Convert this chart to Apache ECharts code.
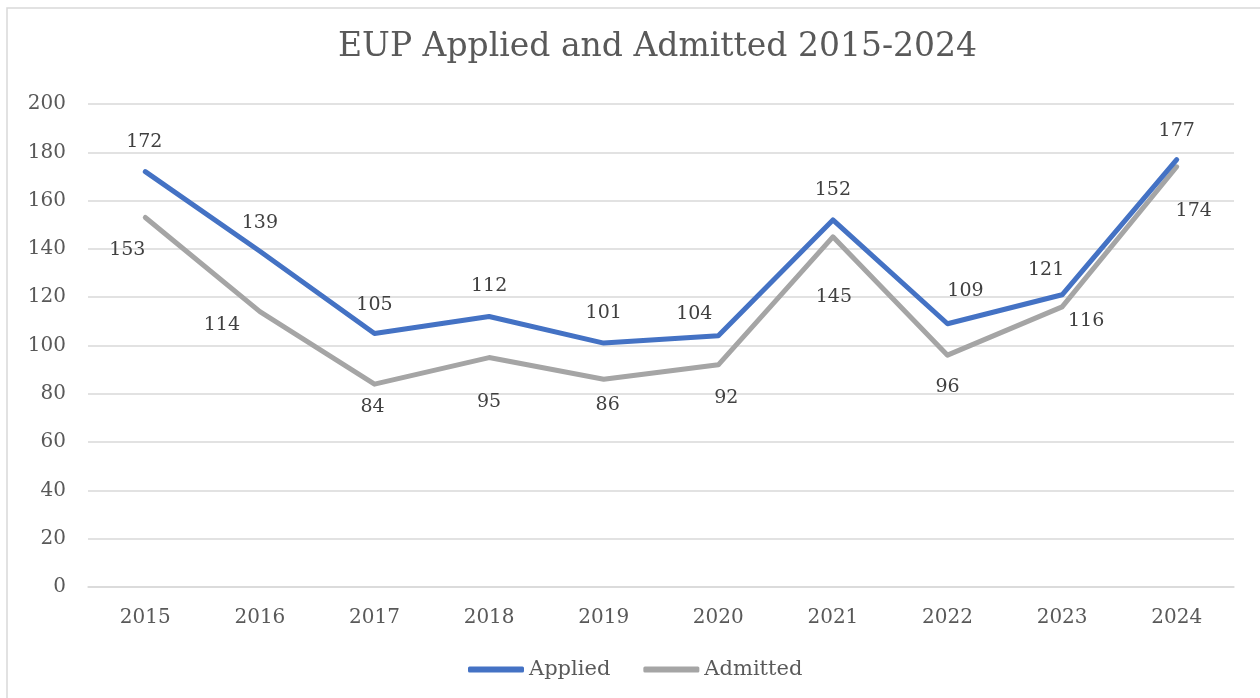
<!DOCTYPE html>
<html>
<head>
<meta charset="utf-8">
<title>EUP Applied and Admitted 2015-2024</title>
<script src="https://cdn.jsdelivr.net/npm/echarts@6/dist/echarts.min.js"></script>
<style>
  html, body { margin: 0; padding: 0; background: #fff; }
  #chart { width: 1260px; height: 698px; }
</style>
</head>
<body>
<div id="chart"></div>
<script>
// data
const years = ['2015', '2016', '2017', '2018', '2019', '2020', '2021', '2022', '2023', '2024']
const applied = [172, 139, 105, 112, 101, 104, 152, 109, 121, 177]
const admitted = [153, 114, 84, 95, 86, 92, 145, 96, 116, 174]

// label nudges (px, from the point) - the labels were moved by hand in the original
const appliedLabelOffset = [[-1, -30], [0, -28], [0, -28], [0, -30], [0, -30], [-24, -22], [0, -30], [18, -33], [-16, -25], [0, -28]]
const admittedLabelOffset = [[-18, 33], [-38, 13], [-2, 23], [0, 44], [4, 26], [8, 33], [1, 60], [0, 32], [24, 14], [17, 44]]

const FONT = '"DejaVu Serif", Georgia, serif'

const withLabels = (values, offsets) => values.map((v, i) => ({
  value: v,
  label: { offset: offsets[i] }
}))

const chart = echarts.init(document.getElementById('chart'))

const lineSeries = (name, values, offsets, color, z) => ({
  name: name,
  type: 'line',
  z: z,
  symbol: 'circle',
  symbolSize: 2,
  lineStyle: { color: color, width: 5, cap: 'round', join: 'round' },
  itemStyle: { color: color },
  label: {
    show: true,
    position: 'inside',
    fontFamily: FONT,
    fontSize: 19,
    color: '#404040'
  },
  emphasis: { disabled: true },
  data: withLabels(values, offsets)
})

chart.setOption({
  animation: false,
  textStyle: { fontFamily: FONT },
  graphic: [{
    type: 'rect',
    shape: { x: 7, y: 8, width: 1300, height: 800 },
    style: { fill: 'none', stroke: '#d9d9d9', lineWidth: 1.5 },
    silent: true
  }],
  title: {
    text: 'EUP Applied and Admitted 2015-2024',
    left: 333,
    top: 26,
    textStyle: { fontFamily: FONT, fontSize: 33, fontWeight: 'normal', color: '#595959' }
  },
  legend: {
    left: 463,
    top: 654,
    icon: 'roundRect',
    itemWidth: 56,
    itemHeight: 6,
    itemGap: 33,
    textStyle: { fontFamily: FONT, fontSize: 21, color: '#595959' },
    data: ['Applied', 'Admitted']
  },
  grid: { left: 88, right: 26, top: 104, bottom: 111 },
  xAxis: {
    type: 'category',
    data: years,
    axisTick: { show: false },
    axisLine: { lineStyle: { color: '#d9d9d9', width: 1.5 } },
    axisLabel: { fontFamily: FONT, fontSize: 20, color: '#595959', margin: 21 }
  },
  yAxis: {
    type: 'value',
    min: 0,
    max: 200,
    interval: 20,
    axisLine: { show: false },
    axisTick: { show: false },
    splitLine: { lineStyle: { color: '#d9d9d9', width: 1.5 } },
    axisLabel: { fontFamily: FONT, fontSize: 20, color: '#595959', margin: 22, padding: [6, 0, 0, 0] }
  },
  series: [
    lineSeries('Admitted', admitted, admittedLabelOffset, '#A5A5A5', 2),
    lineSeries('Applied', applied, appliedLabelOffset, '#4472C4', 3)
  ]
})

window.addEventListener('resize', chart.resize)
</script>
</body>
</html>
